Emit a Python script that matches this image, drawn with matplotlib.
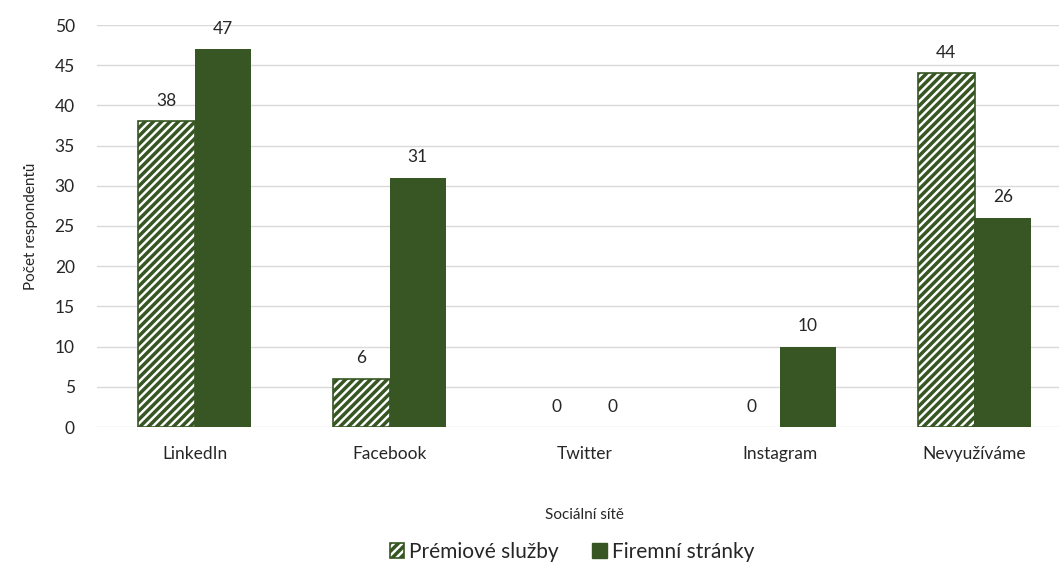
import matplotlib
matplotlib.use("Agg")
import matplotlib.pyplot as plt
import numpy as np
from matplotlib.patches import Patch

plt.rcParams['font.family'] = ['Lato', 'DejaVu Sans']
plt.rcParams['hatch.linewidth'] = 2.5
plt.rcParams['hatch.color'] = '#375623'

categories = ['LinkedIn', 'Facebook', 'Twitter', 'Instagram', 'Nevyužíváme']
premium = [38, 6, 0, 0, 44]
company = [47, 31, 0, 10, 26]
series_names = ['Prémiové služby', 'Firemní stránky']
yticks = [0, 5, 10, 15, 20, 25, 30, 35, 40, 45, 50]

green = '#375623'
text_col = '#262626'

fig = plt.figure(figsize=(10.59, 5.68), dpi=100)
W, H = 1059, 568
ax = fig.add_axes([97 / W, (H - 427) / H, (1072 - 97) / W, (427 - 25) / H])

x = np.arange(len(categories))
bw = 0.29
b1 = ax.bar(x - bw / 2, premium, bw, facecolor='white', edgecolor=green,
            hatch='////', linewidth=1.2, zorder=3)
b2 = ax.bar(x + bw / 2, company, bw, color=green, zorder=3)
# empty bars leave no outline on the baseline
for bars, vals in ((b1, premium), (b2, company)):
    for rect, v in zip(bars, vals):
        if v == 0:
            rect.set_visible(False)

for bars, vals in ((b1, premium), (b2, company)):
    for rect, v in zip(bars, vals):
        ax.annotate(str(v), (rect.get_x() + rect.get_width() / 2, v),
                    xytext=(0, 9), textcoords='offset points',
                    ha='center', va='bottom', fontsize=12.5, color=text_col)

ax.set_xlim(-0.5, len(categories) - 0.5)
ax.set_ylim(0, 50)
ax.set_yticks(yticks)
ax.set_xticks(x)
ax.set_xticklabels(categories)
ax.tick_params(axis='both', length=0, labelsize=12.5, colors=text_col)
ax.tick_params(axis='y', pad=16)
ax.tick_params(axis='x', pad=14)
ax.grid(axis='y', color='#d9d9d9', linewidth=1, zorder=0)
for s in ax.spines.values():
    s.set_visible(False)

ax.set_ylabel('Počet respondentů', fontsize=11, color=text_col, labelpad=12)
fig.text(0.5 * (97 + 1072) / W, (H - 515) / H, 'Sociální sítě',
         ha='center', va='center', fontsize=11, color=text_col)

handles = [Patch(facecolor='white', edgecolor=green, hatch='////', linewidth=1.2),
           Patch(facecolor=green, edgecolor=green)]
fig.legend(handles, series_names, loc='center', bbox_to_anchor=(572 / W, (H - 552) / H),
           ncol=2, frameon=False, fontsize=15, handlelength=0.7, handleheight=0.7,
           handletextpad=0.25, columnspacing=1.6, labelcolor=text_col)

fig.savefig('out.png', dpi=100)
